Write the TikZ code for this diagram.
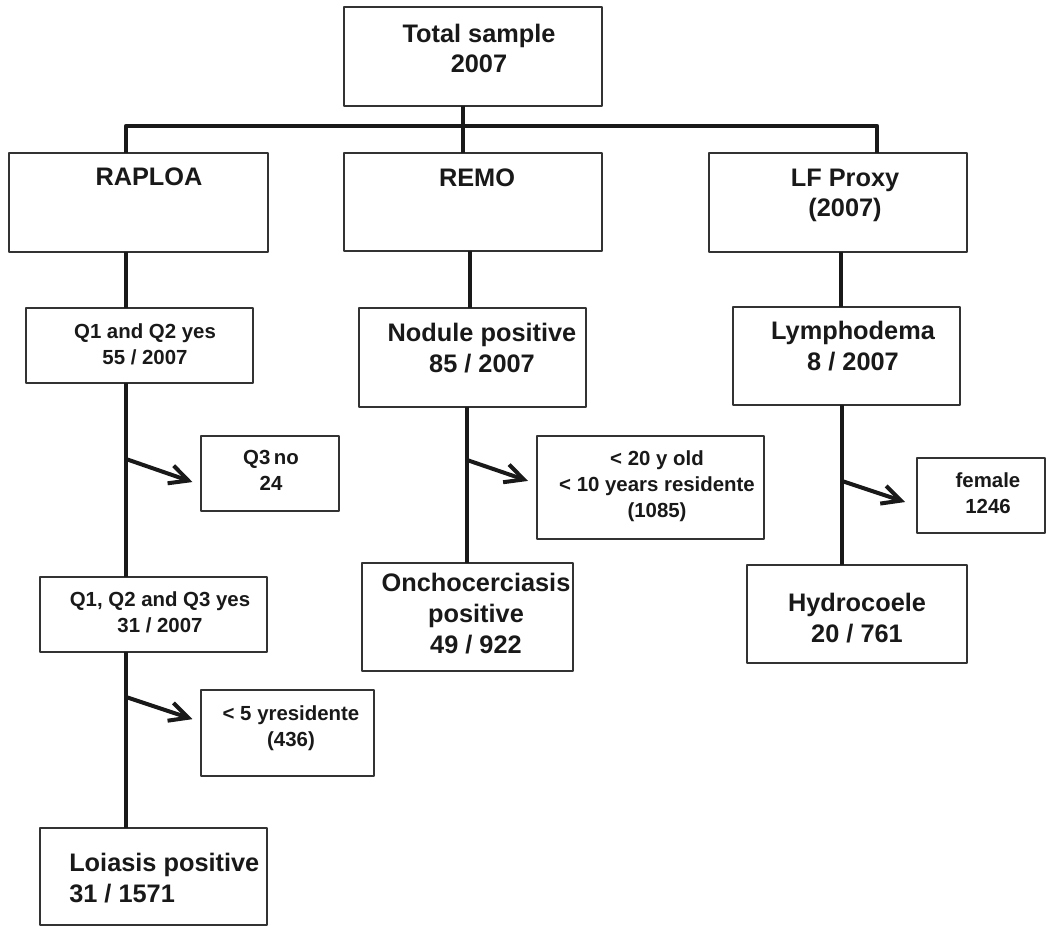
\documentclass[tikz,border=0pt]{standalone}
\usepackage{fontspec}
\setmainfont{Liberation Sans}
\usetikzlibrary{arrows.meta,calc}
\newlength\px \setlength\px{0.75pt}
\tikzset{
  box/.style={draw=black!80, line width=1.5\px, rectangle, inner sep=0pt, outer sep=0pt, anchor=north west},
  big/.style={font=\fontsize{19}{23}\selectfont\bfseries, align=center, inner sep=0pt, anchor=base, text=black!90},
  small/.style={font=\fontsize{15.3}{19.5}\selectfont\bfseries, align=center, inner sep=0pt, anchor=base, text=black!90},
  link/.style={line width=4.5\px, draw=black!90},
  flow/.style={line width=4\px, draw=black!90, line cap=round, -{Straight Barb[length=14pt,width=14pt]}},
}
\begin{document}
\begin{tikzpicture}[x=1\px, y=-1\px, line join=round]
\useasboundingbox (0,0) rectangle (1046,927);
% boxes
\node[box, minimum width=258\px, minimum height=99\px] (total) at (344,7) {};
\node[box, minimum width=259\px, minimum height=99\px] (raploa) at (9,153) {};
\node[box, minimum width=258\px, minimum height=98\px] (remo) at (344,153) {};
\node[box, minimum width=258\px, minimum height=99\px] (lf) at (709,153) {};
\node[box, minimum width=227\px, minimum height=75\px] (q12) at (26,308) {};
\node[box, minimum width=138\px, minimum height=75\px] (q3no) at (201,436) {};
\node[box, minimum width=227\px, minimum height=75\px] (q123) at (40,577) {};
\node[box, minimum width=173\px, minimum height=86\px] (res5) at (201,690) {};
\node[box, minimum width=227\px, minimum height=97\px] (loiasis) at (40,828) {};
\node[box, minimum width=227\px, minimum height=99\px] (nodule) at (359,308) {};
\node[box, minimum width=227\px, minimum height=103\px] (young) at (537,436) {};
\node[box, minimum width=211\px, minimum height=108\px] (oncho) at (362,563) {};
\node[box, minimum width=227\px, minimum height=98\px] (lympho) at (733,307) {};
\node[box, minimum width=128\px, minimum height=75\px] (female) at (917,458) {};
\node[box, minimum width=220\px, minimum height=98\px] (hydro) at (747,565) {};
% texts (base = last line)
\node[big] (total-t) at (479,73) {Total sample\\2007};
\node[big] (raploa-t) at (149,186) {RAPLOA};
\node[big] (remo-t) at (477,187) {REMO};
\node[big] (lf-t) at (845,217) {LF Proxy\\(2007)};
\node[small] (q12-t) at (145,364) {Q1 and Q2 yes\\55 / 2007};
\node[small] (q3no-t) at (271,490) {Q3\,no\\24};
\node[small] (q123-t) at (160,632) {Q1, Q2 and Q3 yes\\31 / 2007};
\node[small] (res5-t) at (291,746) {< 5 yresidente\\(436)};
\node[big, align=left, anchor=base west] (loiasis-t) at (69,902) {Loiasis positive\\31 / 1571};
\node[big] (nodule-t) at (482,372) {Nodule positive\\85 / 2007};
\node[small] (young-t) at (657,517) {< 20 y old\\< 10 years residente\\(1085)};
\node[big] (oncho-t) at (476,653) {Onchocerciasis\\positive\\49 / 922};
\node[big] (lympho-t) at (853,370) {Lymphodema\\8 / 2007};
\node[small] (female-t) at (988,513) {female\\1246};
\node[big] (hydro-t) at (857,642) {Hydrocoele\\20 / 761};
% columns
\path (126,126) coordinate (barL) (877,126) coordinate (barR)
  (463,0) coordinate (colB) (470,0) coordinate (colB2) (467,0) coordinate (colB3)
  (841,0) coordinate (colC) (842,0) coordinate (colC2);
\draw[link] (raploa.north -| barL) -- (barL) -- (barR) -- (lf.north -| barR);
\draw[link] (total.south -| colB) -- (remo.north -| colB);
\draw[link] (raploa.south -| barL) -- (q12.north -| barL);
\draw[link] (q12.south -| barL) -- (q123.north -| barL);
\draw[link] (q123.south -| barL) -- (loiasis.north -| barL);
\draw[link] (remo.south -| colB2) -- (nodule.north -| colB2);
\draw[link] (nodule.south -| colB3) -- (oncho.north -| colB3);
\draw[link] (lf.south -| colC) -- (lympho.north -| colC);
\draw[link] (lympho.south -| colC2) -- (hydro.north -| colC2);
% side arrows
\path (126,459) coordinate (a1) (126,697) coordinate (a2)
  (467,460) coordinate (a3) (842,481) coordinate (a4);
\draw[flow, shorten >=9\px] (a1) -- ($(q3no.west)+(0,11.5)$);
\draw[flow, shorten >=9\px] (a2) -- ($(res5.west)+(0,-11)$);
\draw[flow, shorten >=9.5\px] (a3) -- ($(young.west)+(0,-3.5)$);
\draw[flow, shorten >=12.5\px] (a4) -- ($(female.west)+(0,10.5)$);
\end{tikzpicture}
\end{document}
